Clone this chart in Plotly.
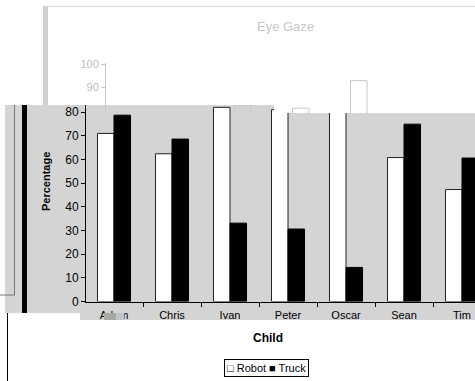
import plotly.graph_objects as go

# ---- data -------------------------------------------------------------
children = ["Adam", "Chris", "Ivan", "Peter", "Oscar", "Sean", "Tim"]
robot = [71.0, 62.4, 82.0, 81.0, 93.0, 60.8, 47.3]
truck = [78.7, 68.6, 33.1, 30.6, 14.4, 74.9, 60.6]
y_ticks = [0, 10, 20, 30, 40, 50, 60, 70, 80]
ghost_ticks = [90, 100]

W, H = 475, 381
FONT = "Liberation Sans, Arial, sans-serif"
PANEL = "#d4d4d4"
FAINT = "#c8c8c8"


def px(x):
    return x / W


def py(y):
    return 1 - y / H


fig = go.Figure()

# faded copy of the chart (drawn first, sits on the upper axes)
fig.add_trace(go.Bar(x=children, y=robot, name="Robot", xaxis="x2", yaxis="y2",
                     marker=dict(color="rgba(0,0,0,0)", line=dict(color=FAINT, width=1)),
                     showlegend=False, hoverinfo="skip"))
fig.add_trace(go.Bar(x=children, y=truck, name="Truck", xaxis="x2", yaxis="y2",
                     marker=dict(color="rgba(0,0,0,0)", line=dict(color=FAINT, width=1)),
                     showlegend=False, hoverinfo="skip"))

# main chart
fig.add_trace(go.Bar(x=children, y=robot, name="Robot", xaxis="x", yaxis="y",
                     marker=dict(color="white", line=dict(color="#222222", width=1)),
                     showlegend=False, hoverinfo="skip"))
fig.add_trace(go.Bar(x=children, y=truck, name="Truck", xaxis="x", yaxis="y",
                     marker=dict(color="black", line=dict(color="black", width=1)),
                     showlegend=False, hoverinfo="skip"))

# main axes: plot area spans x 86..475, y 105..301.5 px
cat_w = 58.0
x0_center = 114.0
x_range = [-(x0_center - 86) / cat_w, (W - x0_center) / cat_w]
y_scale = 2.3675
y_range = [0, (301.5 - 105) / y_scale]

# faded axes: plot area spans x 106..475, y 63..113 px
g_center = 135.0
g_scale = 2.3
g_zero = 294.5
gx_range = [-(g_center - 106) / cat_w, (W - g_center) / cat_w]
gy_range = [(g_zero - 113) / g_scale, (g_zero - 63) / g_scale]

shapes = [
    # faded outer frame
    dict(type="rect", xref="paper", yref="paper", x0=px(43), x1=px(48), y0=py(105), y1=py(6),
         fillcolor="#cfcfcf", line=dict(width=0), layer="below"),
    dict(type="line", xref="paper", yref="paper", x0=px(48), x1=px(W), y0=py(6.5), y1=py(6.5),
         line=dict(color="#d8d8d8", width=1), layer="below"),
    # grey chart panel
    dict(type="rect", xref="paper", yref="paper", x0=px(5), x1=px(W), y0=py(313), y1=py(105),
         fillcolor=PANEL, line=dict(width=0), layer="below"),
    dict(type="rect", xref="paper", yref="paper", x0=px(80), x1=px(W), y0=py(320), y1=py(313),
         fillcolor=PANEL, line=dict(width=0), layer="below"),
    # left edge strokes
    dict(type="line", xref="paper", yref="paper", x0=px(14.5), x1=px(14.5), y0=py(295), y1=py(105),
         line=dict(color="#777777", width=1), layer="below"),
    dict(type="line", xref="paper", yref="paper", x0=px(0), x1=px(14.5), y0=py(295), y1=py(295),
         line=dict(color="#777777", width=1), layer="below"),
    dict(type="rect", xref="paper", yref="paper", x0=px(22), x1=px(27), y0=py(313), y1=py(105),
         fillcolor="black", line=dict(width=0), layer="below"),
    dict(type="line", xref="paper", yref="paper", x0=px(7.5), x1=px(7.5), y0=py(H), y1=py(313),
         line=dict(color="black", width=1), layer="below"),
    # white strip above the right half of the panel (under the faded bars)
    dict(type="rect", xref="x2", yref="y2",
         x0=(274 - g_center) / cat_w, x1=(W + 5 - g_center) / cat_w,
         y0=(g_zero - 120) / g_scale, y1=(g_zero - 105) / g_scale,
         fillcolor="white", line=dict(width=0), layer="below"),
    # smudge over the first category label
    dict(type="rect", xref="paper", yref="paper", x0=px(104), x1=px(116), y0=py(320), y1=py(313),
         fillcolor="#a8a8a8", line=dict(width=0), layer="above"),
    dict(type="rect", xref="paper", yref="paper", x0=px(116), x1=px(124), y0=py(320), y1=py(313),
         fillcolor="#c4c4c4", line=dict(width=0), layer="above"),
]


def label(text, x, y, size, color="black", angle=0, **extra):
    return dict(text=text, xref="paper", yref="paper", x=px(x), y=py(y),
                xanchor="center", yanchor="middle", showarrow=False, textangle=angle,
                font=dict(family=FONT, size=size, color=color), **extra)


annotations = [
    label("Eye Gaze", 285, 26, 13, FAINT),
    label("<b>Percentage</b>", 46, 182, 11, angle=-90),
    label("<b>Child</b>", 268, 338, 12),
    label("□ Robot ■ Truck", 266, 367.5, 11,
          bordercolor="black", borderwidth=1, borderpad=2, bgcolor="white"),
]

fig.update_layout(
    width=W, height=H, autosize=False,
    margin=dict(l=0, r=0, t=0, b=0, pad=0, autoexpand=False),
    paper_bgcolor="white", plot_bgcolor="rgba(0,0,0,0)",
    barmode="group", bargap=0.43, bargroupgap=0,
    showlegend=False, hovermode=False,
    font=dict(family=FONT, size=11, color="black"),
    xaxis=dict(domain=[px(86), 1], range=x_range, type="category", anchor="y",
               showline=True, linecolor="black", linewidth=1, mirror=False,
               ticks="outside", ticklen=4, tickcolor="black", tickson="boundaries",
               ticklabelstandoff=3, tickfont=dict(family=FONT, size=11, color="black"),
               showgrid=False, zeroline=False, fixedrange=True, automargin=False),
    yaxis=dict(domain=[py(301.5), py(105)], range=y_range, anchor="x",
               tickvals=y_ticks, showline=True, linecolor="black", linewidth=1,
               ticks="outside", ticklen=4, tickcolor="black",
               tickfont=dict(family=FONT, size=12, color="black"),
               showgrid=False, zeroline=False, fixedrange=True, automargin=False),
    xaxis2=dict(domain=[px(106), 1], range=gx_range, type="category", anchor="y2",
                visible=False, fixedrange=True, automargin=False),
    yaxis2=dict(domain=[py(113), py(63)], range=gy_range, anchor="x2",
                tickvals=ghost_ticks, showline=True, linecolor=FAINT, linewidth=1,
                ticks="outside", ticklen=4, tickcolor=FAINT,
                tickfont=dict(family=FONT, size=11, color="#bdbdbd"),
                showgrid=False, zeroline=False, fixedrange=True, automargin=False),
    shapes=shapes,
    annotations=annotations,
)

fig.write_html("out.html", config={"displayModeBar": False})
